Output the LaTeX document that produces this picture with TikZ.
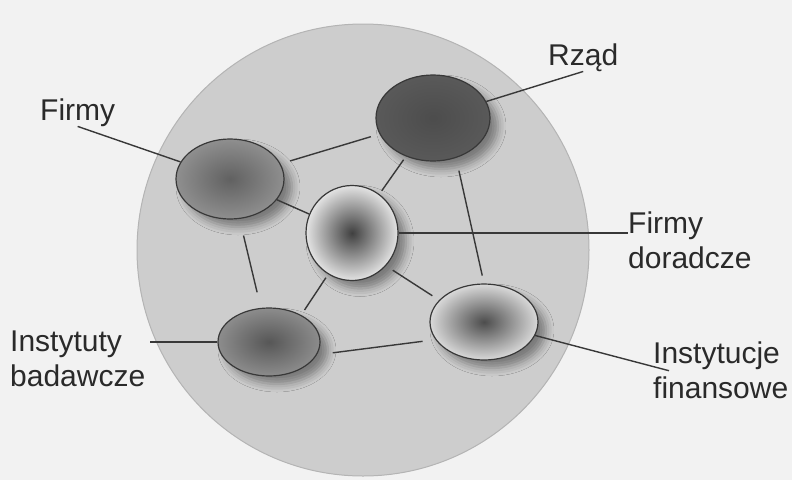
\documentclass[tikz,border=0pt]{standalone}
\usepackage{fontspec}
\setmainfont{Liberation Sans}
\usetikzlibrary{positioning,shapes,shadows.blur,calc}

\definecolor{paper}{HTML}{F2F2F2}
\definecolor{cluster}{HTML}{CDCDCD}
\definecolor{rim}{HTML}{B4B4B4}
\definecolor{edge}{HTML}{383838}
\definecolor{ink}{HTML}{2A2A2A}

\begin{document}
\begin{tikzpicture}[x=1pt,y=-1pt,
    actor/.style={draw=edge,line width=1.2pt,ellipse,inner sep=0pt,shading=radial,
      blur shadow={shadow xshift=8pt,shadow yshift=-8pt,shadow blur radius=8pt,shadow opacity=40}},
    link/.style={draw=edge,line width=1.4pt},
    tag/.style={font=\fontsize{30}{35}\selectfont,text=ink,inner sep=0pt,align=left}]
        \fill[paper] (0,0) rectangle (792,480);
        \useasboundingbox (0,0) rectangle (792,480);
        \filldraw[fill=cluster,draw=rim,line width=1pt] (363,250) circle (226pt);
        % actors
        \node[actor,minimum width=108pt,minimum height=80pt,inner color=black!62,outer color=black!44] (firmy) at (230,179) {};
        \node[actor,minimum width=114pt,minimum height=86pt,inner color=black!70,outer color=black!65] (rzad) at (433,118) {};
        \node[actor,minimum width=92pt,minimum height=95pt,inner color=black!75,outer color=black!11] (doradcze) at (352,233) {};
        \node[actor,minimum width=102pt,minimum height=68pt,inner color=black!66,outer color=black!45] (badawcze) at (269,342) {};
        \node[actor,minimum width=108pt,minimum height=76pt,inner color=black!70,outer color=black!15] (finansowe) at (484,322) {};
        % labels
        \node[tag,anchor=base west] (firmylbl) at (40,120) {Firmy};
        \node[tag,anchor=base west] (rzadlbl) at (548,65) {Rząd};
        \node[tag,anchor=north west] (doradczelbl) at (628,212) {Firmy\\doradcze};
        \node[tag,anchor=north west] (badawczelbl) at (10,331) {Instytuty\\badawcze};
        \node[tag,anchor=north west] (finansowelbl) at (653,342) {Instytucje\\finansowe};
        \draw[link] (firmylbl.south) -- (firmy);
        \draw[link] (rzadlbl.south) -- (rzad);
        \draw[link] (doradcze.east) -- (doradcze.east -| doradczelbl.west);
        \draw[link,shorten >=5pt] (badawcze.west) -- (badawcze.west -| badawczelbl.east);
        \draw[link] (finansowe) -- ([xshift=16pt]finansowelbl.west);
        % ties between actors
        \foreach \from/\to/\s/\e in {firmy/rzad/10/9, rzad.-60/finansowe.north/13/8, rzad/doradcze/4/4,
            firmy/doradcze/0/0, firmy/badawcze/17/16, doradcze.-120/badawcze.40/4/6,
            doradcze.-44/finansowe.154/8/8, badawcze.-15/finansowe.200/16/13}
        \draw[link,shorten <=\s pt,shorten >=\e pt] (\from) -- (\to);
    \end{tikzpicture}
\end{document}
